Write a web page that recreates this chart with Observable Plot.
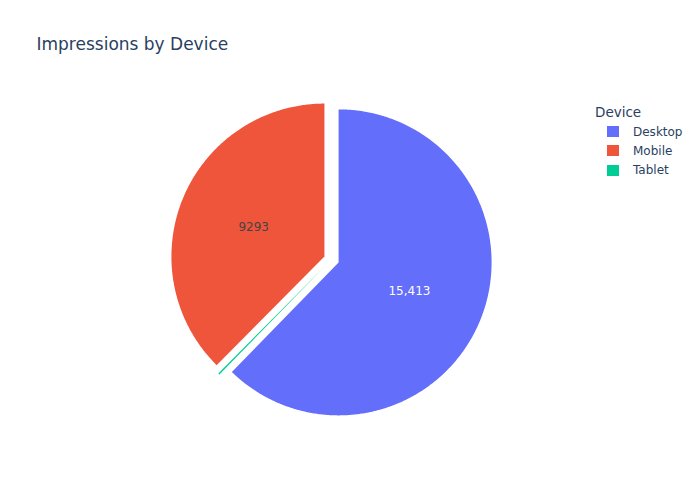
<!DOCTYPE html>
<html>
<head>
<meta charset="utf-8">
<script src="https://cdn.jsdelivr.net/npm/d3@7"></script>
<script src="https://cdn.jsdelivr.net/npm/@observablehq/plot@0.6"></script>
<style>
  html, body { margin: 0; padding: 0; background: #fff; }
  #wrap { position: relative; width: 700px; height: 500px; font-family: "DejaVu Sans", Verdana, sans-serif; }
  #legend { position: absolute; left: 595px; top: 103px; color: #2a3f5f; }
  #legend .ttl { font-size: 13.5px; line-height: 18px; margin-bottom: 1px; }
  #legend .row { display: flex; align-items: center; height: 19.3px; font-size: 12px; }
  #legend .sw { width: 12px; height: 11px; margin-left: 12px; margin-right: 14px; }
</style>
</head>
<body>
<div id="wrap"></div>
<script>
// ---- data ----
const chartTitle = "Impressions by Device";
const legendTitle = "Device";
const devices = ["Desktop", "Mobile", "Tablet"];
const impressions = [15413, 9293, 40];
const pulls = [0.05, 0.05, 0.05];
const colors = ["#636efa", "#EF553B", "#00cc96"];

// ---- layout (plotly-like pie: counterclockwise order, first slice ending at 12 o'clock) ----
const cx = 331, cy = 259, R = 153;
const rows = devices.map((d, i) => ({device: d, value: impressions[i], pull: pulls[i], color: colors[i]}));
const total = d3.sum(impressions);
const start = 2 * Math.PI * impressions[0] / total;
const arcs = d3.pie().sort(null).value(d => d.value).startAngle(start).endAngle(start - 2 * Math.PI)(rows);

const points = [];
const labels = [];
for (const a of arcs) {
  const mid = (a.startAngle + a.endAngle) / 2;
  const ox = a.data.pull * Math.sin(mid), oy = a.data.pull * Math.cos(mid);
  points.push({device: a.data.device, x: ox, y: oy});
  const span = a.endAngle - a.startAngle;
  const n = Math.max(2, Math.ceil(Math.abs(span) / (Math.PI / 360)));
  for (let k = 0; k <= n; k++) {
    const t = a.startAngle + span * k / n;
    points.push({device: a.data.device, x: ox + Math.sin(t), y: oy + Math.cos(t)});
  }
  if (Math.abs(span) > 0.3) {
    const c = d3.rgb(a.data.color);
    const bright = (c.r * 299 + c.g * 587 + c.b * 114) / 1000;
    labels.push({
      device: a.data.device,
      x: ox + 0.5 * Math.sin(mid),
      y: oy + 0.5 * Math.cos(mid),
      text: a.data.value >= 10000 ? d3.format(",")(a.data.value) : String(a.data.value),
      dark: bright >= 128
    });
  }
}

const chart = Plot.plot({
  width: 700,
  height: 500,
  margin: 0,
  style: {fontFamily: "'DejaVu Sans', Verdana, sans-serif", background: "#fff"},
  x: {domain: [-1, 1], range: [cx - R, cx + R], axis: null},
  y: {domain: [-1, 1], range: [cy + R, cy - R], axis: null},
  color: {domain: devices, range: colors},
  marks: [
    Plot.line(points, {x: "x", y: "y", z: "device", fill: "device", stroke: "none", curve: "linear-closed"}),
    Plot.text(labels.filter(d => d.dark), {x: "x", y: "y", text: "text", fill: "#444", fontSize: 12}),
    Plot.text(labels.filter(d => !d.dark), {x: "x", y: "y", text: "text", fill: "#fff", fontSize: 12}),
    Plot.text([chartTitle], {frameAnchor: "top-left", dx: 36, dy: 44, text: d => d, textAnchor: "start", lineAnchor: "middle", fontSize: 17, fill: "#2a3f5f"})
  ]
});

const wrap = document.getElementById("wrap");
wrap.appendChild(chart);

const color = chart.scale("color");
const legend = document.createElement("div");
legend.id = "legend";
const lt = document.createElement("div");
lt.className = "ttl";
lt.textContent = legendTitle;
legend.appendChild(lt);
for (const d of color.domain) {
  const row = document.createElement("div");
  row.className = "row";
  const sw = document.createElement("div");
  sw.className = "sw";
  sw.style.background = color.apply(d);
  const tx = document.createElement("span");
  tx.textContent = d;
  row.appendChild(sw);
  row.appendChild(tx);
  legend.appendChild(row);
}
wrap.appendChild(legend);
</script>
</body>
</html>
